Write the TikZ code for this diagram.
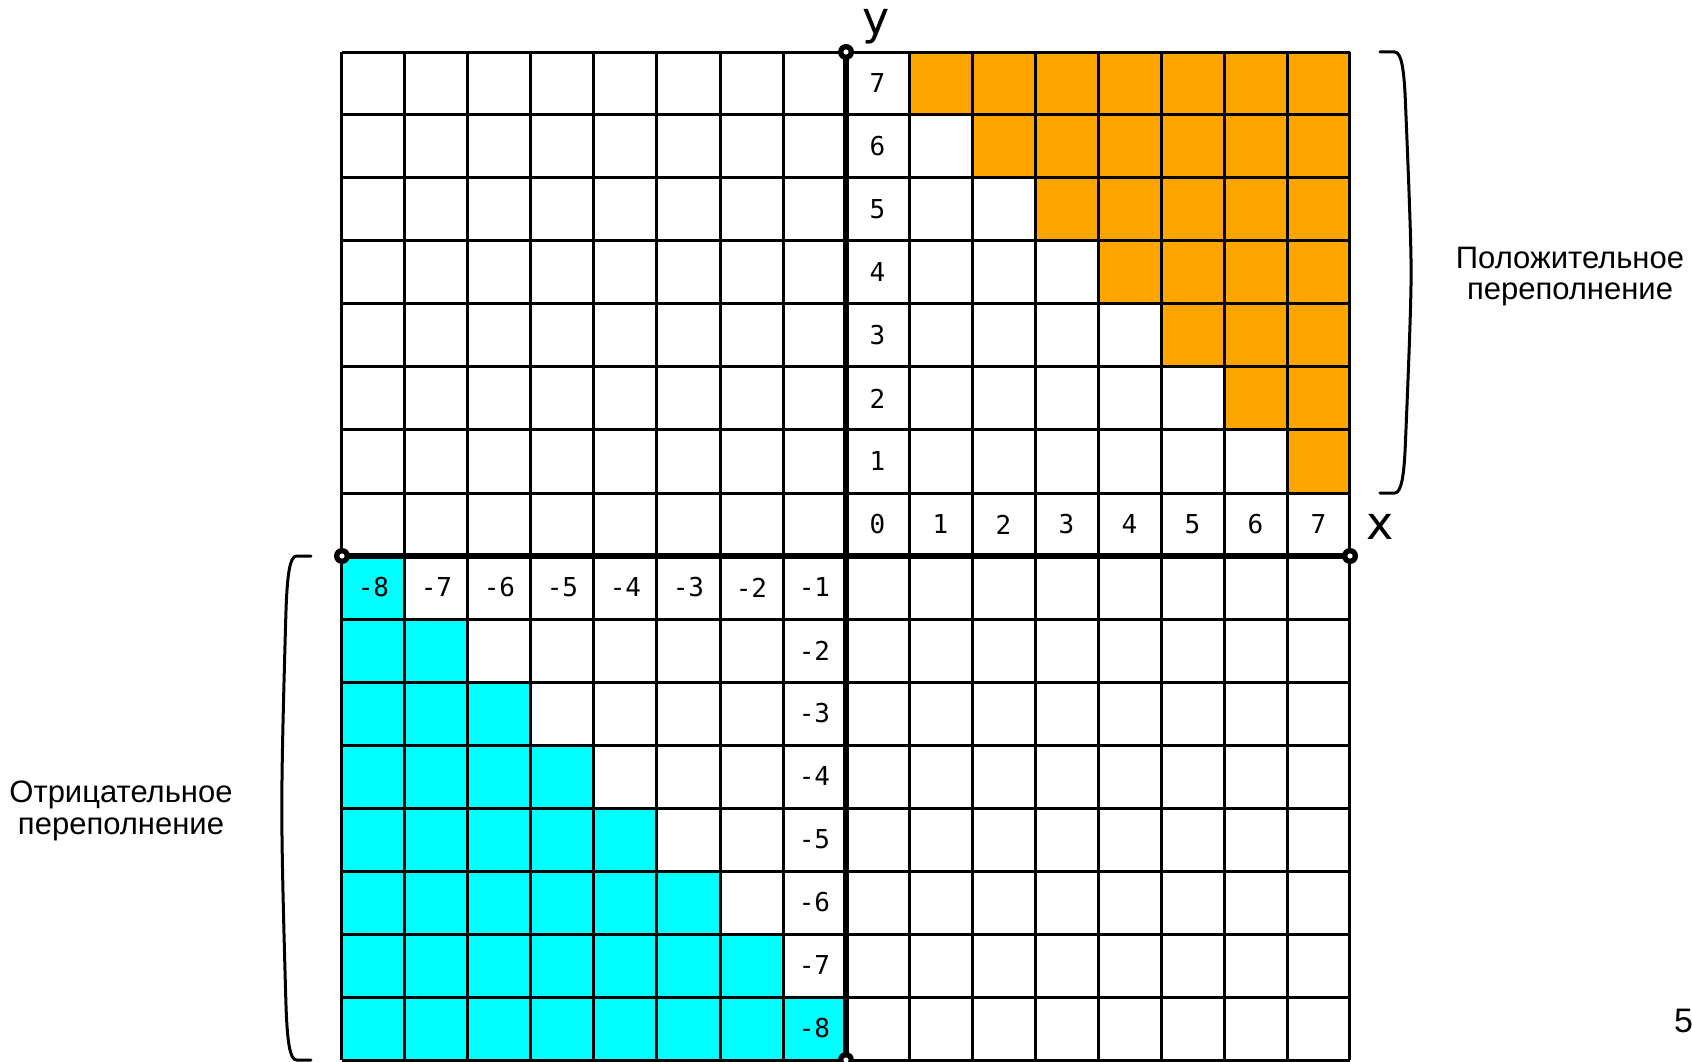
\documentclass[tikz,border=0pt]{standalone}
\usepackage{fontspec}
\setmainfont{Liberation Sans}
\newfontfamily\monof{DejaVu Sans Mono}
\newfontfamily\dejavu{DejaVu Sans}
\definecolor{ovfpos}{RGB}{255,165,0}
\definecolor{ovfneg}{RGB}{0,255,255}
\begin{document}
\begin{tikzpicture}[x=31.5pt,y=31.5pt,
  gridline/.style={line width=1.5pt,black},
  axisline/.style={line width=3pt,black},
  bracket/.style={line width=1.5pt,black,line cap=round},
  numlabel/.style={font=\monof\fontsize{13}{15}\selectfont,inner sep=0pt},
  axlabel/.style={font=\dejavu\fontsize{23}{27}\selectfont,inner sep=0pt,anchor=base},
  sidelabel/.style={font=\fontsize{15.5}{18}\selectfont,inner sep=0pt,anchor=base},
  endmark/.style={circle,fill=black,minimum size=8pt,inner sep=0pt},
  enddot/.style={circle,fill=white,minimum size=2.6pt,inner sep=0pt}]
\useasboundingbox[fill=white] (-13.4286,-8.0159) rectangle (13.4286,8.8254);
% coloured cells
\foreach \i in {1,...,7}{
  \foreach \j in {1,...,7}{
    \pgfmathtruncatemacro{\s}{\i+\j}
    \ifnum\s>7
      \fill[ovfpos] (\i,\j) rectangle ++(1,1);
    \fi
  }
}
\foreach \i in {-8,...,-1}{
  \foreach \j in {-8,...,-1}{
    \pgfmathtruncatemacro{\s}{\i+\j}
    \ifnum\s<-8
      \fill[ovfneg] (\i,\j) rectangle ++(1,1);
    \fi
  }
}
% grid
\draw[gridline,step=31.5pt] (-8,-8) grid (8,8);
% numbers
\foreach \i in {0,...,7}{
  \node[numlabel] (px\i) at (\i+0.5,0.5) {\i};
}
\foreach \j in {1,...,7}{
  \node[numlabel] (py\j) at (0.5,\j+0.5) {\j};
}
\foreach \i in {-8,...,-1}{
  \node[numlabel] (nx\i) at (\i+0.5,-0.5) {\i};
}
\foreach \j in {-8,...,-2}{
  \node[numlabel] (ny\j) at (-0.5,\j+0.5) {\j};
}
% axes
\coordinate (xl) at (-8,0);
\coordinate (xr) at (8,0);
\coordinate (yb) at (0,-8);
\coordinate (yt) at (0,8);
\draw[axisline] (xl) -- (xr);
\draw[axisline] (yb) -- (yt);
\foreach \c in {xl,xr,yb,yt}{
  \node[endmark] (m\c) at (\c) {};
  \node[enddot] (d\c) at (\c) {};
}
\node[axlabel] (ylab) at (0.476,8.27) {y};
\node[axlabel] (xlab) at (8.484,0.254) {x};
% brackets
\draw[bracket] (8.476,8) -- (8.71,8) .. controls (8.82,8) and (8.86,7.7) .. (8.88,7.2)
  .. controls (8.93,6) and (8.97,5) .. (8.97,4.5)
  .. controls (8.97,4) and (8.93,3) .. (8.88,1.8)
  .. controls (8.86,1.3) and (8.82,1) .. (8.71,1) -- (8.476,1);
\draw[bracket] (-8.492,0) -- (-8.72,0) .. controls (-8.83,0) and (-8.87,-0.3) .. (-8.89,-0.9)
  .. controls (-8.93,-2.3) and (-8.955,-3.3) .. (-8.955,-4)
  .. controls (-8.955,-4.7) and (-8.93,-5.7) .. (-8.89,-7.1)
  .. controls (-8.87,-7.7) and (-8.83,-8) .. (-8.72,-8) -- (-8.492,-8);
% side labels
\node[sidelabel] (pos1) at (11.492,4.571) {Положительное};
\node[sidelabel] (pos2) at (11.492,4.07) {переполнение};
\node[sidelabel] (neg1) at (-11.508,-3.905) {Отрицательное};
\node[sidelabel] (neg2) at (-11.508,-4.42) {переполнение};
% page number
\node[font=\fontsize{17}{20}\selectfont,inner sep=0pt,anchor=base west] (pnum) at (13.14,-7.571) {5};
\end{tikzpicture}
\end{document}
